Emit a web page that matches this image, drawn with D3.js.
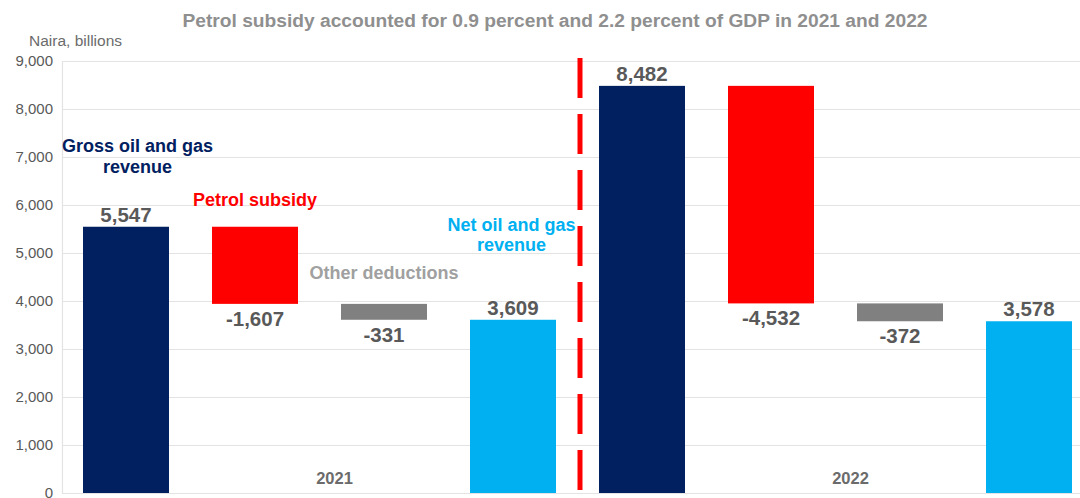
<!DOCTYPE html>
<html>
<head>
<meta charset="utf-8">
<script src="https://cdn.jsdelivr.net/npm/d3@7/dist/d3.min.js"></script>
<style>
  html, body { margin: 0; padding: 0; background: #ffffff; }
  svg { display: block; font-family: "Liberation Sans", Arial, sans-serif; }
</style>
</head>
<body>
<svg id="chart" width="1080" height="498"></svg>
<script>
// Waterfall steps: gross revenue, subsidy, other deductions, net revenue for each year
const years = ["2021", "2022"];
const steps = ["gross", "subsidy", "other", "net"];
const values2021 = [5547, -1607, -331, 3609];
const values2022 = [8482, -4532, -372, 3578];
const yTicks = [0, 1000, 2000, 3000, 4000, 5000, 6000, 7000, 8000, 9000];
const stepColors = ["#002060", "#ff0000", "#808080", "#00b0f0"];
const stepNames = [["Gross oil and gas", "revenue"], ["Petrol subsidy"], ["Other deductions"], ["Net oil and gas", "revenue"]];

const svg = d3.select("#chart");
const W = 1080;

// Build the floating segments for each bar
const bars = [];
[values2021, values2022].forEach((vals, yi) => {
  let running = 0;
  vals.forEach((v, si) => {
    let lo, hi;
    if (si === 0) { lo = 0; hi = v; running = v; }
    else if (si === vals.length - 1) { lo = 0; hi = v; }
    else { lo = running + v; hi = running; running += v; }
    bars.push({ key: years[yi] + "-" + steps[si], year: years[yi], step: si, value: v, lo: lo, hi: hi });
  });
});

const x = d3.scaleBand()
  .domain(bars.map(d => d.key))
  .range([61.5, 1093.5])
  .paddingInner(1 / 3)
  .paddingOuter(1 / 6);

const y = d3.scaleLinear().domain([0, 9000]).range([493, 61]);

// Gridlines
svg.append("g")
  .selectAll("line")
  .data(yTicks)
  .join("line")
  .attr("x1", 62).attr("x2", W)
  .attr("y1", d => y(d) + 0.5).attr("y2", d => y(d) + 0.5)
  .attr("stroke", "#e3e3e3").attr("stroke-width", 1.2);

// Left axis line
svg.append("line")
  .attr("x1", 62.5).attr("x2", 62.5)
  .attr("y1", y(9000)).attr("y2", y(0))
  .attr("stroke", "#e3e3e3").attr("stroke-width", 1.2);

// Y axis tick labels
const yAxis = d3.axisLeft(y).tickValues(yTicks).tickFormat(d3.format(",")).tickSize(0).tickPadding(9);
const gy = svg.append("g").attr("transform", "translate(62,0)").call(yAxis);
gy.select(".domain").remove();
gy.selectAll("text")
  .attr("font-size", 15)
  .attr("fill", "#595959")
  .attr("font-family", "'Liberation Sans', Arial, sans-serif");

// Bars
svg.append("g")
  .selectAll("rect")
  .data(bars)
  .join("rect")
  .attr("x", d => x(d.key))
  .attr("width", x.bandwidth())
  .attr("y", d => y(d.hi))
  .attr("height", d => y(d.lo) - y(d.hi))
  .attr("fill", d => stepColors[d.step]);

// Value labels: above positive bars, below deductions
svg.append("g")
  .selectAll("text")
  .data(bars)
  .join("text")
  .attr("x", d => x(d.key) + x.bandwidth() / 2)
  .attr("y", d => d.value >= 0 ? y(d.hi) - 5 : y(d.lo) + 22)
  .attr("text-anchor", "middle")
  .attr("font-size", 20.5)
  .attr("font-weight", "bold")
  .attr("fill", "#595959")
  .text(d => d3.format(",")(d.value).replace("−", "-"));

// Step name annotations for 2021
const first = bars.filter(d => d.year === "2021");
const nameOffsets = [[-75, -54], [-21], [-25], [-89, -69]];
const nameShift = [11.5, 0, 0, -1.5];
const nameColors = ["#002060", "#ff0000", "#a0a0a0", "#00b0f0"];
first.forEach((d, i) => {
  const t = svg.append("text")
    .attr("text-anchor", "middle")
    .attr("font-size", 18)
    .attr("font-weight", "bold")
    .attr("fill", nameColors[i]);
  stepNames[i].forEach((line, li) => {
    t.append("tspan")
      .attr("x", x(d.key) + x.bandwidth() / 2 + nameShift[i])
      .attr("y", y(d.hi) + nameOffsets[i][li])
      .text(line);
  });
});

// Year labels
years.forEach(yr => {
  const k1 = bars.find(d => d.year === yr && d.step === 1).key;
  const k2 = bars.find(d => d.year === yr && d.step === 2).key;
  const cx = (x(k1) + x(k2) + x.bandwidth()) / 2 + 15;
  svg.append("text")
    .attr("x", cx).attr("y", 484)
    .attr("text-anchor", "middle")
    .attr("font-size", 16.5)
    .attr("font-weight", "bold")
    .attr("fill", "#6b6b6b")
    .text(yr);
});

// Dashed divider between the two years
const splitX = (x(bars[3].key) + x.bandwidth() + x(bars[4].key)) / 2 + 2.5;
svg.append("line")
  .attr("x1", splitX).attr("x2", splitX)
  .attr("y1", 58).attr("y2", 493)
  .attr("stroke", "#ff0000")
  .attr("stroke-width", 5)
  .attr("stroke-dasharray", "40 16");

// Title and unit label
svg.append("text")
  .attr("x", 555).attr("y", 27)
  .attr("text-anchor", "middle")
  .attr("font-size", 19.2)
  .attr("font-weight", "bold")
  .attr("fill", "#8f8f8f")
  .text("Petrol subsidy accounted for 0.9 percent and 2.2 percent of GDP in 2021 and 2022");

svg.append("text")
  .attr("x", 29).attr("y", 46)
  .attr("font-size", 15.5)
  .attr("fill", "#6b6b6b")
  .text("Naira, billions");
</script>
</body>
</html>
